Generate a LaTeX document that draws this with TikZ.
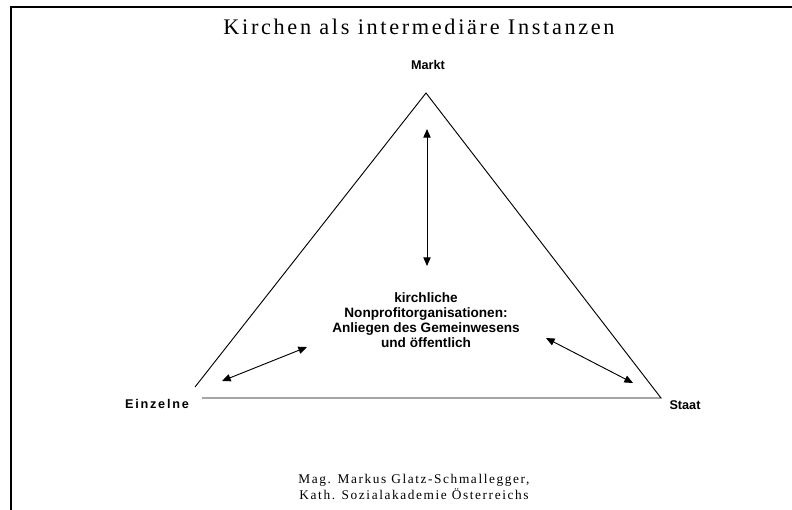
\documentclass[tikz,border=0pt]{standalone}
\usepackage{fontspec}
\setmainfont{Liberation Serif}
\setsansfont{Liberation Sans}
\newfontfamily\spacedserif[LetterSpace=12]{Liberation Serif}
\newfontfamily\spacedsans[LetterSpace=14]{Liberation Sans}
\usetikzlibrary{arrows.meta}
\tikzset{
  pol/.style={font=\sffamily\bfseries\fontsize{9.5}{11}\selectfont},
  kante/.style={line width=.7pt},
  pfeil/.style={line width=.7pt,{Triangle[length=6.5pt,width=5.5pt]}-{Triangle[length=6.5pt,width=5.5pt]}}
}
\begin{document}
\begin{tikzpicture}[x=.75pt, y=-.75pt]
	\useasboundingbox (0,0) rectangle (792,510);
	\draw[line width=2pt] (11,510) -- (11,7) -- (792,7); % Rahmen
	\node (titel) at (419,27) {\spacedserif\fontsize{16.7}{18}\selectfont Kirchen als intermediäre Instanzen};
	% Dreieck
	\coordinate (spitze) at (426,93);
	\coordinate (links) at (195,387);
	\coordinate (ul) at (202,398);
	\coordinate (ur) at (661,398);
	\draw[kante] (links) -- (spitze) -- (ur) -- (ul);
	\node[pol] (markt) at (428,65) {Markt};
	\node[pol, font=\spacedsans\bfseries\fontsize{9.5}{11}\selectfont] (einzelne) at (157,404) {Einzelne};
	\node[pol] (staat) at (685,405) {Staat};
	% Mitte
	\node[pol, align=center, font=\sffamily\bfseries\fontsize{10.2}{11.3}\selectfont] (mitte) at (426,320)
		{kirchliche\\Nonprofitorganisationen:\\Anliegen des Gemeinwesens\\und öffentlich};
	\coordinate (m1) at (427,129);
	\coordinate (m2) at (427,266);
	\coordinate (e1) at (307,347);
	\coordinate (e2) at (222,381);
	\coordinate (s1) at (546,338);
	\coordinate (s2) at (633,383);
	\draw[pfeil] (m1) -- (m2);
	\draw[pfeil] (e1) -- (e2);
	\draw[pfeil] (s1) -- (s2);
	% Autor
	\node[align=center, font=\spacedserif\fontsize{10}{12}\selectfont] (autor) at (414,487)
		{Mag. Markus Glatz-Schmallegger,\\Kath. Sozialakademie Österreichs};
\end{tikzpicture}
\end{document}
